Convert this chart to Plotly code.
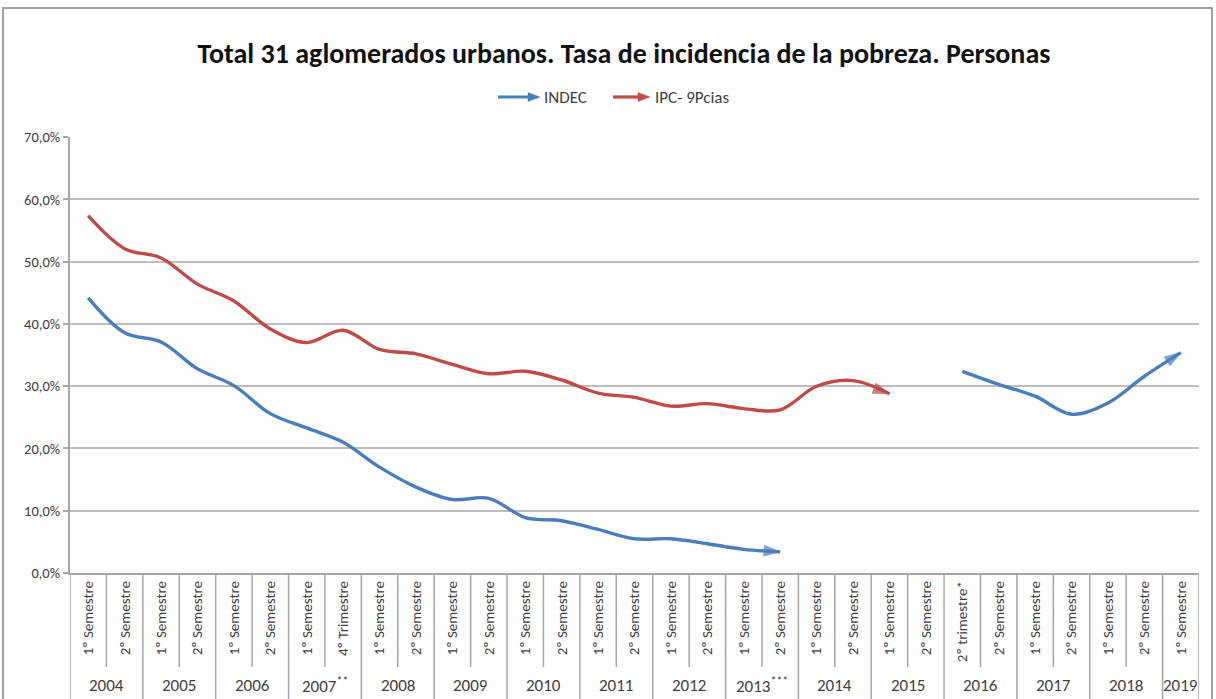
import plotly.graph_objects as go

# ---------------- data ----------------
years = ["2004", "2004", "2005", "2005", "2006", "2006", "2007**", "2007**",
         "2008", "2008", "2009", "2009", "2010", "2010", "2011", "2011",
         "2012", "2012", "2013***", "2013***", "2014", "2014", "2015", "2015",
         "2016", "2016", "2017", "2017", "2018", "2018", "2019"]
periods = ["1º Semestre", "2º Semestre", "1º Semestre", "2º Semestre",
           "1º Semestre", "2º Semestre", "1º Semestre", "4º Trimestre",
           "1º Semestre", "2º Semestre", "1º Semestre", "2º Semestre",
           "1º Semestre", "2º Semestre", "1º Semestre", "2º Semestre",
           "1º Semestre", "2º Semestre", "1º Semestre", "2º Semestre",
           "1º Semestre", "2º Semestre", "1º Semestre", "2º Semestre",
           "2º trimestre*", "2º Semestre", "1º Semestre", "2º Semestre",
           "1º Semestre", "2º Semestre", "1º Semestre"]
indec = [44.2, 38.6, 37.1, 32.8, 30.1, 25.6, 23.3, 21.0, 17.0, 13.8,
         11.8, 12.0, 8.9, 8.4, 7.0, 5.5, 5.5, 4.7, 3.8, 3.4,
         None, None, None, None, 32.4, 30.3, 28.4, 25.5, 27.3, 31.6, 35.4]
ipc = [57.4, 52.1, 50.6, 46.4, 43.7, 39.2, 37.0, 39.0, 35.9, 35.2,
       33.5, 32.0, 32.4, 31.0, 28.9, 28.2, 26.8, 27.2, 26.4, 26.2,
       30.0, 30.9, 28.8, None, None, None, None, None, None, None, None]
y_ticks = [0, 10, 20, 30, 40, 50, 60, 70]
y_ticktext = [f"{v:.1f}".replace(".", ",") + "%" for v in y_ticks]

title = "Total 31 aglomerados urbanos. Tasa de incidencia de la pobreza. Personas"
names = ["INDEC", "IPC- 9Pcias"]

# ---------------- style ----------------
BLUE = "#4a7ebb"
RED = "#be4b48"
TXT = "#404040"
GRID = "#bdbdbd"
AX = "#a6a6a6"
FONT = "Carlito, 'Liberation Sans', Arial, sans-serif"

W, H = 1216, 699
L, R, T, B = 70, 1199, 137, 573


def px_x(p):
    return (p - L) / (R - L)


def px_y(p):
    return (B - p) / (B - T)


xs = list(range(len(periods)))


def arrow_sizes(vals, size=17):
    out = []
    n = len(vals)
    for i, v in enumerate(vals):
        last = v is not None and (i == n - 1 or vals[i + 1] is None)
        out.append(size if last else 0)
    return out


fig = go.Figure()
for vals, col, nm in [(indec, BLUE, names[0]), (ipc, RED, names[1])]:
    fig.add_trace(go.Scatter(
        x=xs, y=vals, mode="lines+markers", name=nm,
        line=dict(color=col, width=3.4, shape="spline", smoothing=1.0),
        marker=dict(symbol="arrow", angleref="previous",
                    size=arrow_sizes(vals), color=col,
                    line=dict(color=col, width=1)),
        connectgaps=False, showlegend=False, hoverinfo="skip"))

shapes = []
# outer frame
shapes.append(dict(type="rect", xref="paper", yref="paper",
                   x0=px_x(3), x1=px_x(1212), y0=px_y(704), y1=px_y(8),
                   line=dict(color="#a0a0a0", width=2), layer="below"))
# category separators
n = len(periods)
for b in range(n + 1):
    xb = b - 0.5
    is_year = b == 0 or b == n or years[b] != years[b - 1]
    y_end = px_y(704) if is_year else px_y(667)
    shapes.append(dict(type="line", xref="x", yref="paper",
                       x0=xb, x1=xb, y0=0, y1=y_end,
                       line=dict(color=AX, width=1.5)))

annotations = []
# year labels
groups = []
for i, yr in enumerate(years):
    if groups and groups[-1][0] == yr:
        groups[-1][1].append(i)
    else:
        groups.append((yr, [i]))
for yr, idx in groups:
    digits = yr.rstrip("*")
    stars = yr[len(digits):]
    txt = digits + (f"<sup>{stars}</sup>" if stars else "")
    annotations.append(dict(x=sum(idx) / len(idx), y=px_y(685), xref="x", yref="paper",
                            text=txt, showarrow=False, yanchor="middle",
                            font=dict(family=FONT, size=17, color=TXT)))

# legend (arrow shapes + text)
leg = [(names[0], BLUE, 498, 540, 542), (names[1], RED, 613, 650, 653)]
ly = 97
for nm, col, x0, x1, xt in leg:
    shapes.append(dict(type="line", xref="paper", yref="paper",
                       x0=px_x(x0), x1=px_x(x1 - 8), y0=px_y(ly), y1=px_y(ly),
                       line=dict(color=col, width=3.2)))
    path = (f"M{px_x(x1)},{px_y(ly)} L{px_x(x1 - 12)},{px_y(ly - 4.5)} "
            f"L{px_x(x1 - 12)},{px_y(ly + 4.5)} Z")
    shapes.append(dict(type="path", xref="paper", yref="paper", path=path,
                       fillcolor=col, line=dict(color=col, width=0.5)))
    annotations.append(dict(x=px_x(xt), y=px_y(ly), xref="paper", yref="paper",
                            text=nm, showarrow=False, xanchor="left", yanchor="middle",
                            font=dict(family=FONT, size=17, color=TXT)))

fig.update_layout(
    width=W, height=H,
    margin=dict(l=L, r=W - R, t=T, b=H - B, pad=0),
    paper_bgcolor="white", plot_bgcolor="white",
    title=dict(text=f"<b>{title}</b>", x=624 / W, xanchor="center",
               y=1 - 53 / H, yanchor="middle", xref="container", yref="container",
               font=dict(family=FONT, size=28, color="#111111")),
    xaxis=dict(range=[-0.5, n - 0.5], tickmode="array", tickvals=xs,
               ticktext=periods, tickangle=-90, ticks="",
               showgrid=False, zeroline=False, showline=True,
               linecolor=AX, linewidth=2,
               tickfont=dict(family=FONT, size=15, color=TXT)),
    yaxis=dict(range=[0, 70.03], tickmode="array", tickvals=y_ticks,
               ticktext=y_ticktext,
               showgrid=True, gridcolor=GRID, gridwidth=2,
               zeroline=False, showline=True, linecolor=AX, linewidth=2,
               ticks="outside", ticklen=5, tickcolor=AX, tickwidth=2,
               tickfont=dict(family=FONT, size=14.5, color=TXT)),
    shapes=shapes, annotations=annotations,
)

fig.write_html("out.html", config={"displayModeBar": False},
               post_script="document.body.style.margin='0';")
